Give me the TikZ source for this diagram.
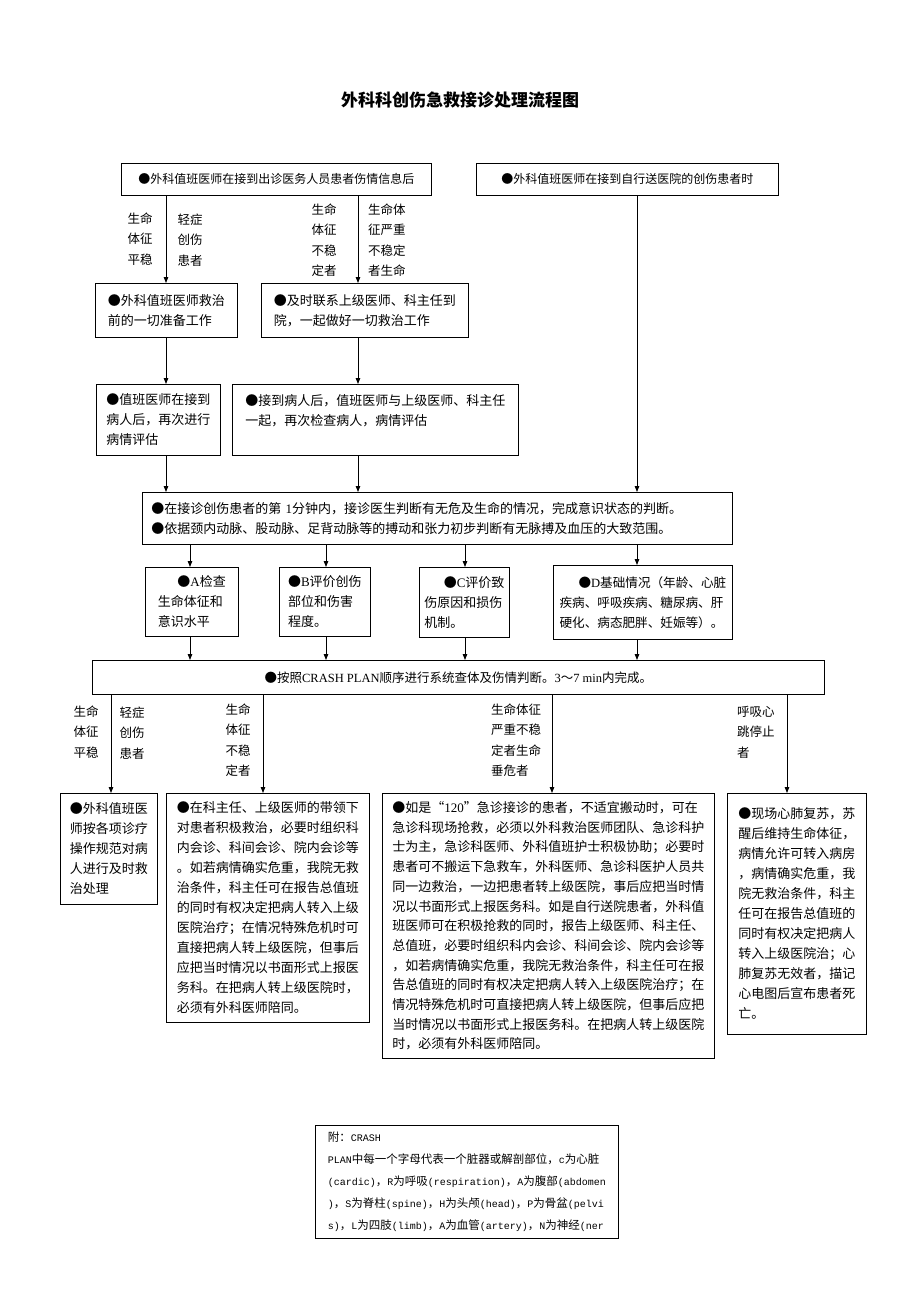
\documentclass[tikz,border=0pt]{standalone}
\usepackage{fontspec}
\usetikzlibrary{arrows.meta}
\newfontfamily\cjk{Noto Sans CJK SC}
\newfontfamily\lat{Liberation Serif}
\newfontfamily\mon{Liberation Mono}
\newcommand{\en}[1]{{\lat #1}}
\newcommand{\fm}[1]{{\mon\fontsize{10}{22}\selectfont #1}}

\tikzset{
  box/.style={draw, line width=0.8pt, inner sep=0pt, anchor=north west, align=left,
    font=\cjk\fontsize{13}{20}\selectfont},
  sz/.style 2 args={minimum width=#1pt, minimum height=#2pt},
  lbl/.style={inner sep=0pt, align=center, font=\cjk\fontsize{12.5}{20.5}\selectfont},
  arr/.style={-{Triangle[length=6pt,width=4.5pt]}, line width=0.8pt}
}

\begin{document}
\begin{tikzpicture}[x=1pt,y=-1pt]
        \useasboundingbox (0,0) rectangle (920,1303);
        % 标题
        \node[font=\cjk\bfseries\fontsize{17}{20}\selectfont] (title) at (460,100) {外科科创伤急救接诊处理流程图};

        % 箭头所在的列
        \coordinate (x1) at (166,0);
        \coordinate (x2) at (358,0);
        \coordinate (x3) at (637,0);
        \coordinate (xa) at (190,0);
        \coordinate (xb) at (326,0);
        \coordinate (xc) at (465,0);
        \coordinate (y1) at (111,0);
        \coordinate (y2) at (263,0);
        \coordinate (y3) at (552,0);
        \coordinate (y4) at (787,0);

        % 第一层
        \node[box, sz={310}{32}, font=\cjk\fontsize{12}{16}\selectfont] (top1) at (121,163) {●外科值班医师在接到出诊医务人员患者伤情信息后};
        \node[box, sz={302}{32}, font=\cjk\fontsize{12}{16}\selectfont] (top2) at (476,163) {●外科值班医师在接到自行送医院的创伤患者时};

        \node[lbl] (t1) at (140,239) {生命\\体征\\平稳};
        \node[lbl] (t2) at (190,240) {轻症\\创伤\\患者};
        \node[lbl] (t3) at (324,240) {生命\\体征\\不稳\\定者};
        \node[lbl, anchor=west, align=left] (t4) at (368,240) {生命体\\征严重\\不稳定\\者生命};

        % 第二、三层
        \node[box, sz={142}{54}] (l2a) at (95,283) {●外科值班医师救治\\前的一切准备工作};
        \node[box, sz={207}{54}] (l2b) at (261,283) {●及时联系上级医师、科主任到\\院，一起做好一切救治工作};
        \node[box, sz={124}{71}] (l3a) at (96,384) {●值班医师在接到\\病人后，再次进行\\病情评估};
        \node[box, sz={286}{71}] (l3b) at (232,384) {●接到病人后，值班医师与上级医师、科主任\\一起，再次检查病人，病情评估\\~};

        % 第一分钟判断
        \node[box, sz={590}{52}, text width=572pt, inner xsep=9pt] (l4) at (142,492) {●在接诊创伤患者的第 \en{1}分钟内，接诊医生判断有无危及生命的情况，完成意识状态的判断。\\●依据颈内动脉、股动脉、足背动脉等的搏动和张力初步判断有无脉搏及血压的大致范围。};

        % ABCD
        \node[box, sz={93}{69}] (ba) at (145,567) {\hspace*{1.5em}●\en{A}检查\\生命体征和\\意识水平};
        \node[box, sz={91}{69}] (bb) at (279,567) {●\en{B}评价创伤\\部位和伤害\\程度。};
        \node[box, sz={90}{70}] (bc) at (419,567) {\hspace*{1.5em}●\en{C}评价致\\伤原因和损伤\\机制。};
        \node[box, sz={179}{74}, font=\cjk\fontsize{12.6}{20}\selectfont] (bd) at (553,565) {\hspace*{1.5em}●\en{D}基础情况（年龄、心脏\\疾病、呼吸疾病、糖尿病、肝\\硬化、病态肥胖、妊娠等）。};

        \node[box, sz={732}{34}, font=\cjk\fontsize{12.5}{16}\selectfont] (l6) at (92,660) {●按照\en{CRASH PLAN}顺序进行系统查体及伤情判断。\en{3}～\en{7 min}内完成。};

        \node[lbl] (s1) at (86,732) {生命\\体征\\平稳};
        \node[lbl] (s2) at (132,733) {轻症\\创伤\\患者};
        \node[lbl] (s3) at (238,740) {生命\\体征\\不稳\\定者};
        \node[lbl, anchor=west, align=left] (s4) at (491,740) {生命体征\\严重不稳\\定者生命\\垂危者};
        \node[lbl, anchor=west, align=left] (s5) at (737,732) {呼吸心\\跳停止\\者};

        % 最后一层
        \node[box, sz={97}{111}] (ea) at (60,793) {●外科值班医\\师按各项诊疗\\操作规范对病\\人进行及时救\\治处理};
        \node[box, sz={203}{229}] (eb) at (166,793) {●在科主任、上级医师的带领下\\对患者积极救治，必要时组织科\\内会诊、科间会诊、院内会诊等\\。如若病情确实危重，我院无救\\治条件，科主任可在报告总值班\\的同时有权决定把病人转入上级\\医院治疗；在情况特殊危机时可\\直接把病人转上级医院，但事后\\应把当时情况以书面形式上报医\\务科。在把病人转上级医院时，\\必须有外科医师陪同。};
        \node[box, sz={332}{265}, font=\cjk\fontsize{13}{19.7}\selectfont] (ec) at (382,793) {●如是“\en{120}”急诊接诊的患者，不适宜搬动时，可在\\急诊科现场抢救，必须以外科救治医师团队、急诊科护\\士为主，急诊科医师、外科值班护士积极协助；必要时\\患者可不搬运下急救车，外科医师、急诊科医护人员共\\同一边救治，一边把患者转上级医院，事后应把当时情\\况以书面形式上报医务科。如是自行送院患者，外科值\\班医师可在积极抢救的同时，报告上级医师、科主任、\\总值班，必要时组织科内会诊、科间会诊、院内会诊等\\，如若病情确实危重，我院无救治条件，科主任可在报\\告总值班的同时有权决定把病人转入上级医院治疗；在\\情况特殊危机时可直接把病人转上级医院，但事后应把\\当时情况以书面形式上报医务科。在把病人转上级医院\\时，必须有外科医师陪同。};
        \node[box, sz={139}{241}] (ed) at (727,793) {●现场心肺复苏，苏\\醒后维持生命体征，\\病情允许可转入病房\\，病情确实危重，我\\院无救治条件，科主\\任可在报告总值班的\\同时有权决定把病人\\转入上级医院治；心\\肺复苏无效者，描记\\心电图后宣布患者死\\亡。};

        % 附注
        \node[box, sz={303}{113}, font=\cjk\fontsize{11.5}{22}\selectfont] (note) at (315,1125) {附：\fm{CRASH}\\\fm{PLAN}中每一个字母代表一个脏器或解剖部位，\fm{c}为心脏\\\fm{(cardic)}，\fm{R}为呼吸\fm{(respiration)}，\fm{A}为腹部\fm{(abdomen}\\\fm{)}，\fm{S}为脊柱\fm{(spine)}，\fm{H}为头颅\fm{(head)}，\fm{P}为骨盆\fm{(pelvi}\\\fm{s)}，\fm{L}为四肢\fm{(limb)}，\fm{A}为血管\fm{(artery)}，\fm{N}为神经\fm{(ner}};

        % 连线
        \draw[arr] (top1.south -| x1) -- (l2a.north -| x1);
        \draw[arr] (top1.south -| x2) -- (l2b.north -| x2);
        \draw[arr] (l2a.south -| x1) -- (l3a.north -| x1);
        \draw[arr] (l2b.south -| x2) -- (l3b.north -| x2);
        \draw[arr] (l3a.south -| x1) -- (l4.north -| x1);
        \draw[arr] (l3b.south -| x2) -- (l4.north -| x2);
        \draw[arr] (top2.south -| x3) -- (l4.north -| x3);

        \draw[arr] (l4.south -| xa) -- (ba.north -| xa);
        \draw[arr] (l4.south -| xb) -- (bb.north -| xb);
        \draw[arr] (l4.south -| xc) -- (bc.north -| xc);
        \draw[arr] (l4.south -| x3) -- (bd.north -| x3);
        \draw[arr] (ba.south -| xa) -- (l6.north -| xa);
        \draw[arr] (bb.south -| xb) -- (l6.north -| xb);
        \draw[arr] (bc.south -| xc) -- (l6.north -| xc);
        \draw[arr] (bd.south -| x3) -- (l6.north -| x3);

        \draw[arr] (l6.south -| y1) -- (ea.north -| y1);
        \draw[arr] (l6.south -| y2) -- (eb.north -| y2);
        \draw[arr] (l6.south -| y3) -- (ec.north -| y3);
        \draw[arr] (l6.south -| y4) -- (ed.north -| y4);
    \end{tikzpicture}
\end{document}
